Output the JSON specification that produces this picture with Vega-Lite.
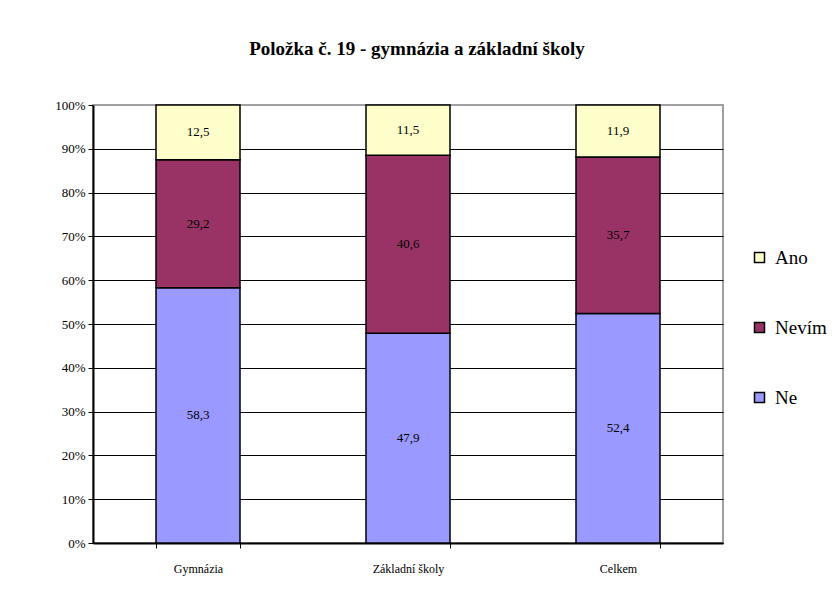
{
  "$schema": "https://vega.github.io/schema/vega-lite/v6.json",
  "width": 630,
  "height": 438,
  "autosize": {"type": "none"},
  "padding": {"left": 93, "top": 105, "right": 111, "bottom": 49},
  "background": "white",
  "config": {
    "font": "Liberation Serif, Times New Roman, serif",
    "locale": {"number": {"decimal": ",", "thousands": " ", "grouping": [3], "currency": ["", " Kč"]}},
    "view": {"stroke": "#a0a0a0", "strokeWidth": 2},
    "axis": {"labelFont": "Liberation Serif, Times New Roman, serif"},
    "legend": {"labelFont": "Liberation Serif, Times New Roman, serif"},
    "text": {"font": "Liberation Serif, Times New Roman, serif"}
  },
  "title": {
    "text": "Položka č. 19 - gymnázia a základní školy",
    "font": "Liberation Serif, Times New Roman, serif",
    "fontSize": 19,
    "fontWeight": "bold",
    "color": "black",
    "anchor": "middle",
    "dx": 9,
    "offset": 40
  },
  "data": {
    "values": [
      {"skola": "Gymnázia", "odpoved": "Ne", "poradi": 1, "hodnota": 58.3},
      {"skola": "Gymnázia", "odpoved": "Nevím", "poradi": 2, "hodnota": 29.2},
      {"skola": "Gymnázia", "odpoved": "Ano", "poradi": 3, "hodnota": 12.5},
      {"skola": "Základní školy", "odpoved": "Ne", "poradi": 1, "hodnota": 47.9},
      {"skola": "Základní školy", "odpoved": "Nevím", "poradi": 2, "hodnota": 40.6},
      {"skola": "Základní školy", "odpoved": "Ano", "poradi": 3, "hodnota": 11.5},
      {"skola": "Celkem", "odpoved": "Ne", "poradi": 1, "hodnota": 52.4},
      {"skola": "Celkem", "odpoved": "Nevím", "poradi": 2, "hodnota": 35.7},
      {"skola": "Celkem", "odpoved": "Ano", "poradi": 3, "hodnota": 11.9}
    ]
  },
  "transform": [
    {"stack": "hodnota", "groupby": ["skola"], "sort": [{"field": "poradi"}], "offset": "normalize", "as": ["y0", "y1"]},
    {"calculate": "(datum.y0 + datum.y1) / 2", "as": "ymid"}
  ],
  "encoding": {
    "x": {
      "field": "skola",
      "type": "nominal",
      "sort": ["Gymnázia", "Základní školy", "Celkem"],
      "scale": {"paddingInner": 0.6, "paddingOuter": 0.3},
      "axis": {
        "title": null,
        "labelAngle": 0,
        "labelFontSize": 12,
        "labelColor": "black",
        "labelPadding": 15,
        "tickBand": "extent",
        "tickSize": 5,
        "tickColor": "black",
        "tickWidth": 1,
        "domainColor": "black",
        "domainWidth": 2,
        "grid": false
      }
    }
  },
  "layer": [
    {
      "mark": {"type": "bar", "stroke": "black", "strokeWidth": 1.5},
      "encoding": {
        "y": {
          "field": "y0",
          "type": "quantitative",
          "scale": {"domain": [0, 1], "nice": false},
          "axis": {
            "title": null,
            "format": ".0%",
            "values": [0, 0.1, 0.2, 0.3, 0.4, 0.5, 0.6, 0.7, 0.8, 0.9, 1],
            "labelFontSize": 13,
            "labelColor": "black",
            "labelPadding": 3,
            "tickSize": 5,
            "tickColor": "black",
            "domainColor": "black",
            "domainWidth": 2,
            "grid": true,
            "gridColor": {"condition": {"test": "datum.value >= 1", "value": "#a0a0a0"}, "value": "black"},
            "gridWidth": 1,
            "gridOpacity": 1
          }
        },
        "y2": {"field": "y1"},
        "color": {
          "field": "odpoved",
          "type": "nominal",
          "scale": {"domain": ["Ano", "Nevím", "Ne"], "range": ["#FFFFCC", "#993366", "#9999FF"]},
          "legend": {
            "title": null,
            "orient": "none",
            "legendX": 657,
            "legendY": 143,
            "symbolType": "square",
            "symbolSize": 100,
            "symbolStrokeColor": "black",
            "symbolStrokeWidth": 1.5,
            "labelFontSize": 19,
            "labelColor": "black",
            "labelOffset": 6,
            "rowPadding": 50
          }
        }
      }
    },
    {
      "mark": {"type": "text", "fontSize": 13, "color": "black", "baseline": "middle"},
      "encoding": {
        "y": {"field": "ymid", "type": "quantitative"},
        "text": {"field": "hodnota", "type": "quantitative", "format": ".1f"}
      }
    }
  ]
}
